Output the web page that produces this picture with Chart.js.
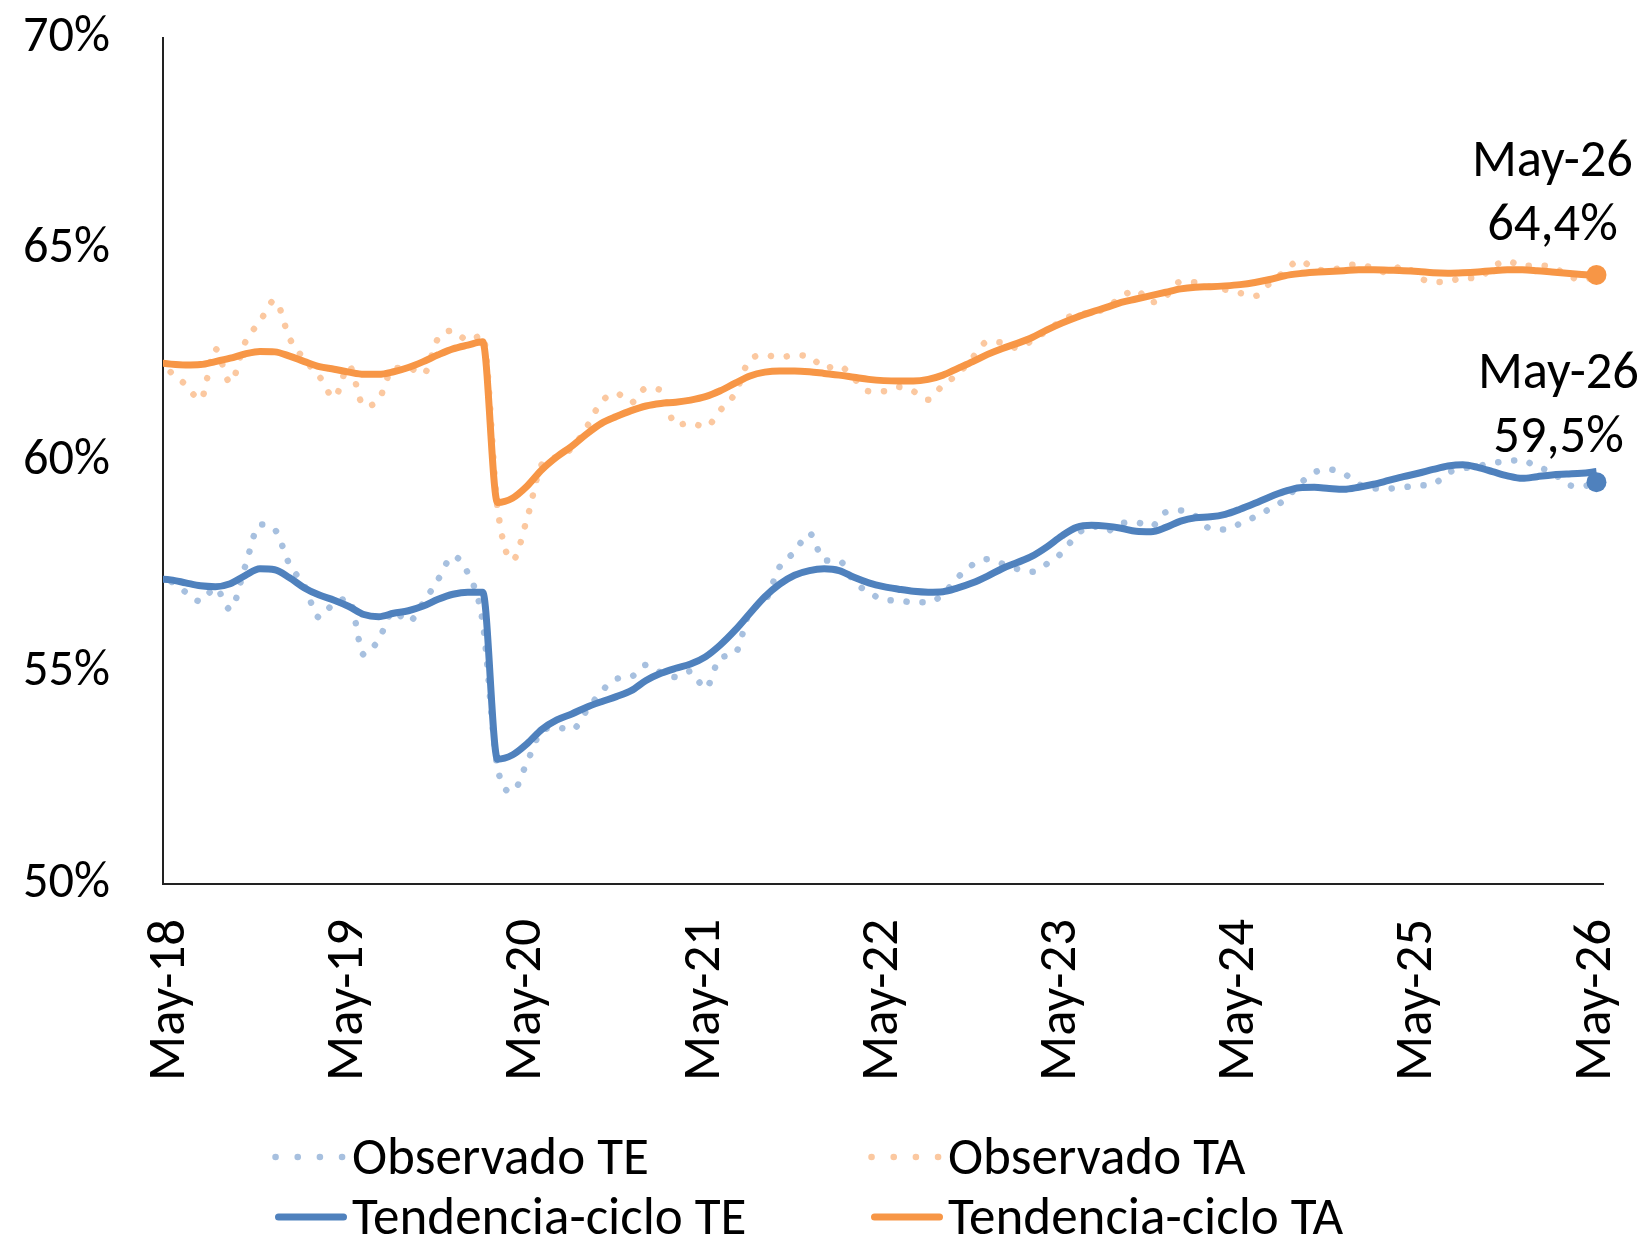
<!DOCTYPE html>
<html>
<head>
<meta charset="utf-8">
<script src="https://cdn.jsdelivr.net/npm/chart.js@4.4.1/dist/chart.umd.min.js"></script>
<style>
html,body{margin:0;padding:0;background:#fff;}
canvas{display:block;}
</style>
</head>
<body>
<canvas id="c" width="1649" height="1237"></canvas>
<script>
// ---------- DATA ----------
const categories = [
 "Apr-18","May-18","Jun-18","Jul-18","Aug-18","Sep-18","Oct-18","Nov-18","Dec-18",
 "Jan-19","Feb-19","Mar-19","Apr-19","May-19","Jun-19","Jul-19","Aug-19","Sep-19","Oct-19","Nov-19","Dec-19",
 "Jan-20","Feb-20","Mar-20","Apr-20","May-20","Jun-20","Jul-20","Aug-20","Sep-20","Oct-20","Nov-20","Dec-20",
 "Jan-21","Feb-21","Mar-21","Apr-21","May-21","Jun-21","Jul-21","Aug-21","Sep-21","Oct-21","Nov-21","Dec-21",
 "Jan-22","Feb-22","Mar-22","Apr-22","May-22","Jun-22","Jul-22","Aug-22","Sep-22","Oct-22","Nov-22","Dec-22",
 "Jan-23","Feb-23","Mar-23","Apr-23","May-23","Jun-23","Jul-23","Aug-23","Sep-23","Oct-23","Nov-23","Dec-23",
 "Jan-24","Feb-24","Mar-24","Apr-24","May-24","Jun-24","Jul-24","Aug-24","Sep-24","Oct-24","Nov-24","Dec-24",
 "Jan-25","Feb-25","Mar-25","Apr-25","May-25","Jun-25","Jul-25","Aug-25","Sep-25","Oct-25","Nov-25","Dec-25",
 "Jan-26","Feb-26","Mar-26","Apr-26","May-26"
];
const tickLabels = ["May-18","May-19","May-20","May-21","May-22","May-23","May-24","May-25","May-26"];
const yTicks = [50, 55, 60, 65, 70];

const observadoTE = [57.20,
 57.15, 56.90, 56.68, 57.00, 56.49, 57.50, 58.50, 58.38, 57.55, 57.05, 56.30, 56.65,
 56.74, 55.42, 55.78, 56.45, 56.20, 56.65, 57.20, 57.75, 57.35, 56.20, 52.75, 52.18,
 52.89, 53.62, 53.70, 53.64, 54.10, 54.55, 54.85, 54.90, 55.18, 55.00, 54.89, 55.03,
 54.62, 55.35, 55.45, 56.45, 56.68, 57.50, 57.85, 58.29, 57.65, 57.64, 57.15, 56.90,
 56.72, 56.70, 56.66, 56.66, 56.85, 57.25, 57.55, 57.68, 57.57, 57.45, 57.38, 57.57,
 57.83, 58.25, 58.47, 58.34, 58.53, 58.55, 58.45, 58.79, 58.83, 58.70, 58.40, 58.38,
 58.52, 58.68, 58.87, 59.08, 59.45, 59.73, 59.80, 59.70, 59.45, 59.35, 59.35, 59.38,
 59.42, 59.45, 59.72, 59.82, 59.88, 59.95, 60.00, 60.02, 59.85, 59.75, 59.45, 59.40,
 59.50];

const observadoTA = [62.25,
 62.10, 61.80, 61.45, 62.65, 61.85, 62.80, 63.30, 63.80, 62.90, 62.40, 62.00, 61.50,
 62.25, 61.30, 61.45, 62.20, 62.20, 62.05, 62.90, 63.08, 62.85, 62.97, 58.90, 57.65,
 58.65, 59.93, 60.10, 60.30, 60.80, 61.40, 61.60, 61.38, 61.72, 61.68, 60.85, 60.90,
 60.80, 61.20, 61.60, 62.40, 62.50, 62.45, 62.50, 62.48, 62.20, 62.25, 61.95, 61.65,
 61.65, 61.75, 61.65, 61.45, 61.80, 62.05, 62.45, 62.82, 62.80, 62.67, 62.85, 63.08,
 63.32, 63.47, 63.50, 63.62, 63.88, 64.04, 63.75, 63.90, 64.24, 64.22, 64.12, 64.05,
 63.97, 63.90, 64.20, 64.48, 64.74, 64.55, 64.50, 64.60, 64.65, 64.55, 64.45, 64.63,
 64.35, 64.23, 64.24, 64.33, 64.32, 64.59, 64.73, 64.61, 64.62, 64.59, 64.40, 64.28,
 64.37];

const tendenciaTE = [57.21,
 57.19, 57.12, 57.05, 57.03, 57.10, 57.29, 57.45, 57.43, 57.24, 57.00, 56.83, 56.71,
 56.56, 56.37, 56.32, 56.40, 56.46, 56.57, 56.73, 56.85, 56.90, 56.90, 52.95, 53.05,
 53.32, 53.66, 53.88, 54.02, 54.18, 54.31, 54.43, 54.57, 54.81, 54.98, 55.10, 55.20,
 55.37, 55.65, 56.00, 56.40, 56.79, 57.09, 57.30, 57.41, 57.45, 57.41, 57.25, 57.12,
 57.03, 56.97, 56.92, 56.90, 56.91, 57.00, 57.12, 57.28, 57.46, 57.60, 57.75, 57.97,
 58.23, 58.43, 58.48, 58.46, 58.41, 58.34, 58.33, 58.43, 58.58, 58.66, 58.68, 58.74,
 58.86, 59.00, 59.15, 59.28, 59.37, 59.38, 59.35, 59.33, 59.38, 59.45, 59.54, 59.63,
 59.71, 59.80, 59.88, 59.91, 59.85, 59.75, 59.65, 59.59, 59.63, 59.67, 59.69, 59.71,
 59.75];

const tendenciaTA = [62.33,
 62.29, 62.27, 62.28, 62.35, 62.43, 62.53, 62.59, 62.58, 62.48, 62.35, 62.23, 62.17,
 62.10, 62.05, 62.05, 62.11, 62.21, 62.35, 62.51, 62.65, 62.74, 62.82, 59.02, 59.12,
 59.41, 59.80, 60.10, 60.35, 60.64, 60.89, 61.05, 61.19, 61.30, 61.36, 61.39, 61.44,
 61.52, 61.66, 61.84, 62.01, 62.10, 62.13, 62.13, 62.11, 62.07, 62.03, 61.98, 61.93,
 61.90, 61.89, 61.89, 61.93, 62.03, 62.19, 62.35, 62.52, 62.66, 62.78, 62.92, 63.10,
 63.26, 63.40, 63.52, 63.63, 63.75, 63.83, 63.91, 63.99, 64.07, 64.11, 64.12, 64.14,
 64.17, 64.22, 64.29, 64.38, 64.43, 64.46, 64.48, 64.50, 64.52, 64.52, 64.51, 64.50,
 64.48, 64.45, 64.44, 64.45, 64.47, 64.50, 64.52, 64.52, 64.50, 64.47, 64.44, 64.41,
 64.38];

const ultimoTE = 59.5;
const ultimoTA = 64.4;

// ---------- STYLE ----------
const FAMILY = "Carlito, Lato, 'DejaVu Sans', sans-serif";
const BLUE = '#4F81BD', ORANGE = '#F79646';
const BLUE_LIGHT = '#A7C0DF', ORANGE_LIGHT = '#FBC8A0';

const mctx = document.createElement('canvas').getContext('2d');
function fitSize(text, target) {
  mctx.font = '100px ' + FAMILY;
  return 100 * target / mctx.measureText(text).width;
}
const legendSize = fitSize('Observado TE', 297);
const yTickSize = fitSize('70%', 87);
const xTickSize = fitSize('May-18', 162);
const annSize = fitSize('May-26', 161);

const xStart = categories.indexOf(tickLabels[0]);
const toPoints = arr => arr.map((v, k) => ({x: k - xStart, y: v}));
const tickPositions = tickLabels.map(l => categories.indexOf(l) - xStart);
const lastX = categories.length - 1 - xStart;
const fmt = v => v.toFixed(1).replace('.', ',') + '%';

function noPad(s) { s.paddingTop = 0; s.paddingBottom = 0; s.paddingLeft = 0; s.paddingRight = 0; }

// annotation plugin: text above the final markers
const annotPlugin = {
  id: 'annot',
  afterDatasetsDraw(chart) {
    const ctx = chart.ctx;
    chart.data.datasets.forEach((ds, i) => {
      if (!ds.annot) return;
      const el = chart.getDatasetMeta(i).data[0];
      if (!el) return;
      ctx.save();
      ctx.font = annSize + 'px ' + FAMILY;
      ctx.fillStyle = '#000';
      ctx.textAlign = 'center';
      ctx.textBaseline = 'alphabetic';
      const cx = el.x + ds.annot.dx;
      ctx.fillText(ds.annot.lines[0], cx, el.y + ds.annot.dy - 64);
      ctx.fillText(ds.annot.lines[1], cx, el.y + ds.annot.dy);
      ctx.restore();
    });
  }
};

// legend plugin: 2 x 2 grid
const legendOrder = ['Observado TE', 'Observado TA', 'Tendencia-ciclo TE', 'Tendencia-ciclo TA'];
const gridLegend = {
  id: 'gridLegend',
  afterDraw(chart) {
    const ctx = chart.ctx;
    const colX = [275, 871];
    const rowY = [1157, 1217];
    legendOrder.forEach((label, k) => {
      const ds = chart.data.datasets.find(d => d.label === label);
      const x0 = colX[k % 2], y = rowY[Math.floor(k / 2)];
      ctx.save();
      ctx.strokeStyle = ds.borderColor;
      ctx.lineWidth = ds.borderWidth;
      ctx.lineCap = 'round';
      ctx.beginPath();
      if (ds.borderDash && ds.borderDash.length) {
        ctx.setLineDash([0.1, 22.07]);
        ctx.moveTo(x0 + 0.5, y); ctx.lineTo(x0 + 67.2, y);
      } else {
        ctx.moveTo(x0 + 3.5, y); ctx.lineTo(x0 + 68.5, y);
      }
      ctx.stroke();
      ctx.setLineDash([]);
      ctx.font = legendSize + 'px ' + FAMILY;
      ctx.fillStyle = '#000';
      ctx.textAlign = 'left';
      ctx.textBaseline = 'alphabetic';
      ctx.fillText(label, x0 + 77, y + 17);
      ctx.restore();
    });
  }
};

new Chart(document.getElementById('c'), {
  type: 'line',
  data: {
    datasets: [
      {label: '_finTA', data: [{x: lastX, y: ultimoTA}], showLine: false, pointRadius: 10,
       pointBackgroundColor: ORANGE, pointBorderWidth: 0, order: 0, clip: false,
       annot: {lines: [categories[categories.length - 1], fmt(ultimoTA)], dx: -44, dy: -35}},
      {label: '_finTE', data: [{x: lastX, y: ultimoTE}], showLine: false, pointRadius: 10,
       pointBackgroundColor: BLUE, pointBorderWidth: 0, order: 0, clip: false,
       annot: {lines: [categories[categories.length - 1], fmt(ultimoTE)], dx: -38, dy: -30}},
      {label: 'Tendencia-ciclo TA', data: toPoints(tendenciaTA), borderColor: ORANGE, borderWidth: 7,
       pointRadius: 0, cubicInterpolationMode: 'monotone', borderJoinStyle: 'round', order: 1, clip: 0},
      {label: 'Tendencia-ciclo TE', data: toPoints(tendenciaTE), borderColor: BLUE, borderWidth: 7,
       pointRadius: 0, cubicInterpolationMode: 'monotone', borderJoinStyle: 'round', order: 1, clip: 0},
      {label: 'Observado TA', data: toPoints(observadoTA), borderColor: ORANGE_LIGHT, borderWidth: 6.5,
       borderDash: [0.1, 15.9], borderCapStyle: 'round', pointRadius: 0, cubicInterpolationMode: 'monotone', order: 2, clip: 0},
      {label: 'Observado TE', data: toPoints(observadoTE), borderColor: BLUE_LIGHT, borderWidth: 6.5,
       borderDash: [0.1, 15.9], borderCapStyle: 'round', pointRadius: 0, cubicInterpolationMode: 'monotone', order: 2, clip: 0}
    ]
  },
  options: {
    responsive: false,
    animation: false,
    devicePixelRatio: 1,
    layout: {padding: {top: 38, right: 46, left: 0, bottom: 0}},
    plugins: {legend: {display: false}, tooltip: {enabled: false}},
    scales: {
      x: {
        type: 'linear', min: -0.525, max: 96.44,
        afterBuildTicks: s => { s.ticks = tickPositions.map(v => ({value: v})); },
        afterFit: s => { s.height = 353; noPad(s); },
        grid: {display: false, drawTicks: false},
        border: {display: true, color: '#222', width: 2},
        ticks: {autoSkip: false, minRotation: 90, maxRotation: 90, padding: 35, color: '#000',
          font: {family: FAMILY, size: xTickSize},
          callback: v => categories[v + xStart]}
      },
      y: {
        min: 50, max: 70,
        afterBuildTicks: s => { s.ticks = yTicks.map(v => ({value: v})); },
        afterFit: s => { s.width = 163; noPad(s); },
        grid: {display: false, drawTicks: false},
        border: {display: true, color: '#222', width: 2},
        ticks: {padding: 53, color: '#000', font: {family: FAMILY, size: yTickSize},
          callback: v => v + '%'}
      }
    }
  },
  plugins: [annotPlugin, gridLegend]
});
</script>
</body>
</html>
